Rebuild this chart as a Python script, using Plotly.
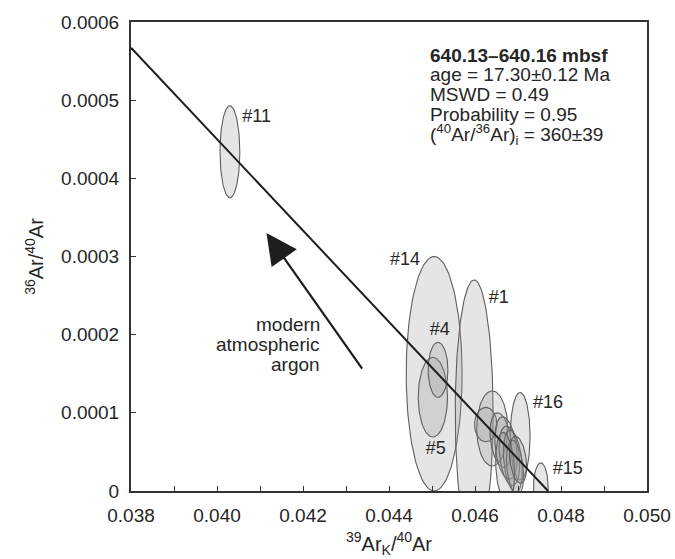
import numpy as np
import plotly.graph_objects as go

# ---- data ----
ell_names = ["#14", "#1", "#11", "#5", "#4", "#16", "#15",
             "c1", "c2", "c3", "c4", "c5", "c6", "c7", "c8", "c9"]
ell_cx = [0.04505, 0.04598, 0.04030, 0.04502, 0.04514, 0.04705, 0.04753,
          0.04640, 0.04625, 0.04660, 0.04672, 0.04680, 0.04688, 0.04693, 0.04670, 0.04700]
ell_cy = [0.000150, 0.000100, 0.000434, 0.000120, 0.000155, 0.000070, 0.000005,
          0.000080, 0.000085, 0.000065, 0.000055, 0.000045, 0.000038, 0.000030, 0.000030, 0.000040]
ell_sx = [0.00065, 0.00044, 0.00023, 0.00034, 0.00023, 0.00023, 0.00017,
          0.00036, 0.00026, 0.00025, 0.00026, 0.00024, 0.00022, 0.00020, 0.00022, 0.00020]
ell_sy = [0.000150, 0.000170, 0.0000588, 0.000051, 0.0000352, 0.000056, 0.000031,
          0.000048, 0.000022, 0.000035, 0.000040, 0.000038, 0.000040, 0.000035, 0.000045, 0.000030]
ell_rho = [0, 0, 0, 0, 0, 0, 0,
           0, 0, -0.3, -0.3, -0.3, -0.3, -0.3, -0.2, -0.3]

label_text = ["#11", "#14", "#1", "#4", "#5", "#16", "#15"]
label_x = [0.04092, 0.04437, 0.04655, 0.04518, 0.04509, 0.04770, 0.04816]
label_y = [0.000478, 0.000295, 0.000246, 0.000205, 0.0000537, 0.0001125, 0.0000281]

fit_x = [0.038, 0.0477]
fit_y = [0.000567, 0.0]

arrow_tail = (0.04340, 0.0001547)
arrow_tip = (0.04115, 0.000330)

info_lines = ["<b>640.13–640.16 mbsf</b>", "age = 17.30±0.12 Ma", "MSWD = 0.49",
              "Probability = 0.95", "(<sup>40</sup>Ar/<sup>36</sup>Ar)<sub>i</sub> = 360±39"]
arrow_lines = ["modern", "atmospheric", "argon"]

x_ticks = [0.038, 0.040, 0.042, 0.044, 0.046, 0.048, 0.050]
x_ticktext = ["0.038", "0.040", "0.042", "0.044", "0.046", "0.048", "0.050"]
y_ticks = [0, 0.0001, 0.0002, 0.0003, 0.0004, 0.0005, 0.0006]
y_ticktext = ["0", "0.0001", "0.0002", "0.0003", "0.0004", "0.0005", "0.0006"]

FONT = "Liberation Sans, Arial, Helvetica, sans-serif"
TXT = "#262626"
fig = go.Figure()

t = np.linspace(0, 2 * np.pi, 121)
for cx, cy, sx, sy, r in zip(ell_cx, ell_cy, ell_sx, ell_sy, ell_rho):
    ex = cx + sx * np.cos(t)
    ey = cy + sy * (r * np.cos(t) + np.sqrt(1 - r * r) * np.sin(t))
    fig.add_trace(go.Scatter(x=ex, y=ey, mode="lines", fill="toself",
                             fillcolor="rgba(150,150,150,0.25)",
                             line=dict(color="#5f5f5f", width=1.1),
                             hoverinfo="skip", showlegend=False))

fig.add_trace(go.Scatter(x=fit_x, y=fit_y, mode="lines",
                         line=dict(color="#1e1e1e", width=2),
                         showlegend=False, hoverinfo="skip"))

fig.add_trace(go.Scatter(x=label_x, y=label_y, mode="text", text=label_text,
                         textfont=dict(family=FONT, size=18, color=TXT),
                         showlegend=False, hoverinfo="skip", cliponaxis=False))

fig.add_annotation(x=arrow_tip[0], y=arrow_tip[1], ax=arrow_tail[0], ay=arrow_tail[1],
                   xref="x", yref="y", axref="x", ayref="y", text="",
                   showarrow=True, arrowhead=2, arrowsize=2.8, arrowwidth=2.2,
                   arrowcolor="#1e1e1e")

# "modern atmospheric argon" (tight line spacing as in the reference)
for i, s in enumerate(arrow_lines):
    fig.add_annotation(x=0.370, y=0.354 - i * 0.0426, xref="paper", yref="paper",
                       xanchor="right", yanchor="middle", showarrow=False, text=s,
                       font=dict(family=FONT, size=19, color=TXT))

# info block top-right
for i, s in enumerate(info_lines):
    fig.add_annotation(x=0.5756, y=0.9296 - i * 0.0426, xref="paper", yref="paper",
                       xanchor="left", yanchor="middle", showarrow=False, text=s,
                       font=dict(family=FONT, size=19, color=TXT))

axis_common = dict(showline=True, linecolor="#333", linewidth=2, mirror=True,
                   showgrid=False, zeroline=False, ticks="inside", ticklen=5,
                   automargin=False,
                   tickcolor="#333", tickfont=dict(family=FONT, size=19, color=TXT))

fig.update_xaxes(range=[0.038, 0.050], tickvals=x_ticks, ticktext=x_ticktext,
                 ticklabelstandoff=6,
                 minor=dict(dtick=0.001, tick0=0.038, ticks="inside", ticklen=5, tickcolor="#333"),
                 title=dict(text="<sup>39</sup>Ar<sub>K</sub>/<sup>40</sup>Ar",
                            font=dict(family=FONT, size=20, color=TXT), standoff=12),
                 **axis_common)
fig.update_yaxes(range=[0, 0.0006], tickvals=y_ticks, ticktext=y_ticktext,
                 ticklabelstandoff=6,
                 title=dict(text="<sup>36</sup>Ar/<sup>40</sup>Ar",
                            font=dict(family=FONT, size=20, color=TXT), standoff=12),
                 **axis_common)

fig.update_layout(width=675, height=559, margin=dict(l=131, r=28, t=22, b=68),
                  plot_bgcolor="white", paper_bgcolor="white", showlegend=False)

fig.write_html("out.html")
